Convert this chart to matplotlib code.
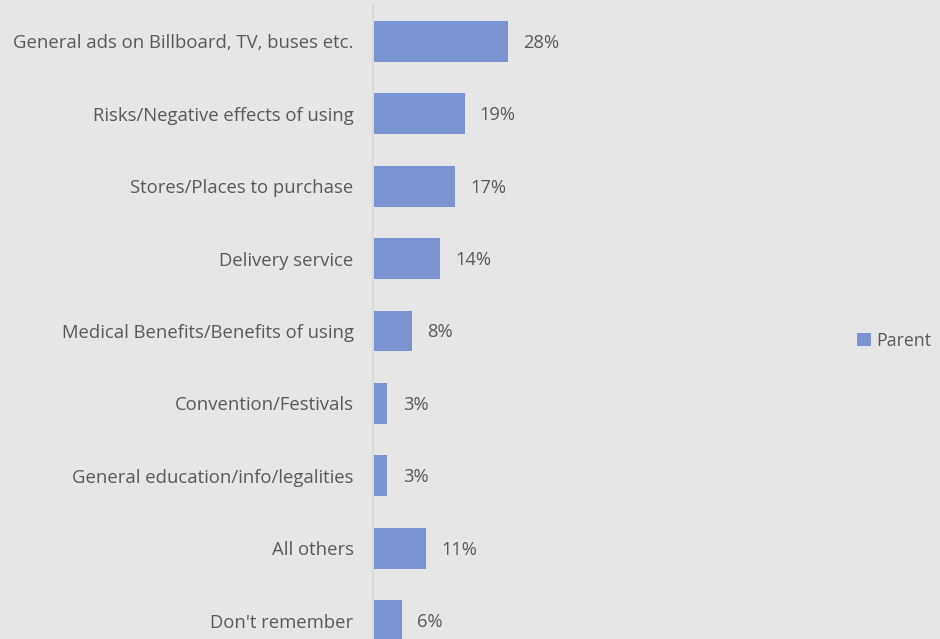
import matplotlib.pyplot as plt

plt.rcParams['font.family'] = ['Open Sans', 'DejaVu Sans']

# Data
categories = [
    'General ads on Billboard, TV, buses etc.',
    'Risks/Negative effects of using',
    'Stores/Places to purchase',
    'Delivery service',
    'Medical Benefits/Benefits of using',
    'Convention/Festivals',
    'General education/info/legalities',
    'All others',
    "Don't remember",
]
parent = [28, 19, 17, 14, 8, 3, 3, 11, 6]
series_name = 'Parent'

bg = '#E7E6E6'
bar_color = '#7A94D1'
text_color = '#595959'

W, H = 940, 639
fig = plt.figure(figsize=(W / 100, H / 100), dpi=100, facecolor=bg)

# axes spans past the bottom edge, as in the cropped reference
left, right = 373, 840
top, bottom = 5.3, 656.7
ax = fig.add_axes([left / W, 1 - bottom / H, (right - left) / W, (bottom - top) / H])
ax.set_facecolor(bg)

y = list(range(len(categories)))
bars = ax.barh(y, parent, height=0.566, color=bar_color, label=series_name)
ax.set_ylim(len(categories) - 0.5, -0.5)
ax.set_xlim(0, (right - left) / 4.82)

for b, v in zip(bars, parent):
    ax.annotate(f'{v}%', (b.get_width(), b.get_y() + b.get_height() / 2),
                xytext=(11, -1), textcoords='offset points',
                va='center', ha='left', fontsize=13.2, color=text_color)

ax.set_yticks(y)
ax.set_yticklabels(categories, fontsize=13.3, color=text_color)
ax.tick_params(axis='y', length=0, pad=14)
ax.set_xticks([])
for s in ['top', 'right', 'bottom']:
    ax.spines[s].set_visible(False)
ax.spines['left'].set_color('#D9D9D9')
ax.spines['left'].set_linewidth(1.5)

fig.legend(loc='center right', bbox_to_anchor=(931 / W, 1 - 341 / H), frameon=False,
           fontsize=12.8, labelcolor=text_color, handlelength=0.75, handleheight=0.75,
           handletextpad=0.3, borderpad=0, borderaxespad=0)

fig.savefig('out.png', dpi=100, facecolor=bg)
